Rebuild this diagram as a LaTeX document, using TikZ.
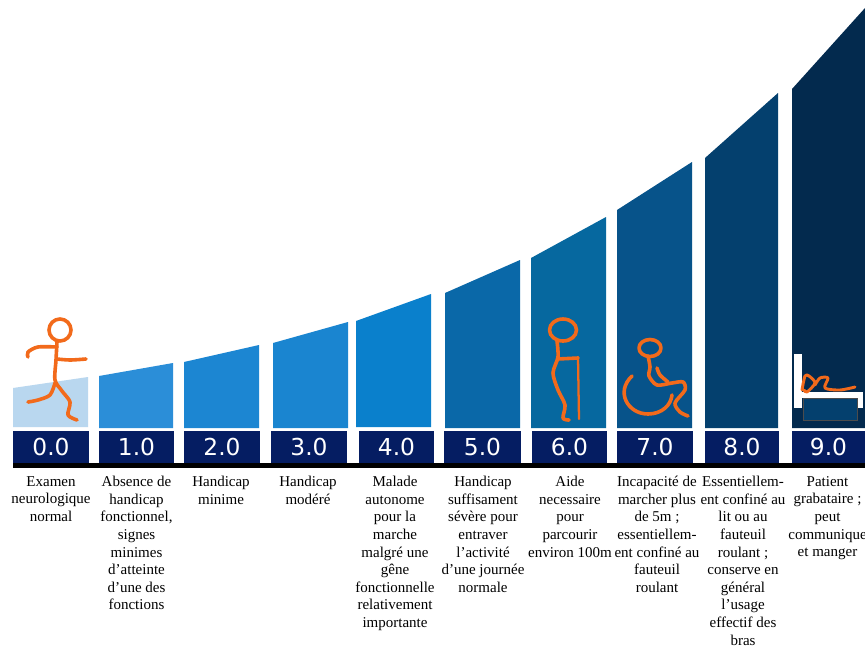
\documentclass[tikz,border=0pt]{standalone}
\usepackage{fontspec}
\setmainfont{Liberation Serif}
\setsansfont{DejaVu Sans}
\definecolor{bz}{HTML}{B9D7EF}
\definecolor{ba}{HTML}{2B8ED8}
\definecolor{bb}{HTML}{1C86D2}
\definecolor{bc}{HTML}{1A85D0}
\definecolor{bd}{HTML}{0A80CC}
\definecolor{be}{HTML}{0A68A8}
\definecolor{bf}{HTML}{06689F}
\definecolor{bg}{HTML}{07538A}
\definecolor{bh}{HTML}{04406E}
\definecolor{bi}{HTML}{032A4E}
\definecolor{navy}{HTML}{051D62}
\definecolor{figcol}{HTML}{F26A1B}
\tikzset{
  x=0.75pt,y=-0.75pt,
  numbox/.style={fill=navy,draw=none,inner sep=0pt,minimum height=24pt,text=white,font=\sffamily\fontsize{17.5}{17.5}\selectfont},
  caption/.style={anchor=north,align=center,inner sep=0pt,font=\fontsize{11.25}{13.2}\selectfont,text=black},
  fig/.style={draw=figcol,line width=2.7pt,line cap=round,line join=round}
}
\newcommand{\numb}[4]{\node[numbox,minimum width=#3*0.75pt] (n#1) at (#2+#3/2,447) {#4};}
\begin{document}
\begin{tikzpicture}
\useasboundingbox (0,0) rectangle (865,647);
\fill[white] (0,0) rectangle (865,647);
\fill[bz] (13,427) -- (13,388) -- (88,377) -- (88,427) -- cycle;
\fill[ba] (99,428) -- (99,376) -- (173,363) -- (173,428) -- cycle;
\fill[bb] (184,428) -- (184,362) -- (259,345) -- (259,428) -- cycle;
\fill[bc] (273,428) -- (273,343) -- (348,322) -- (348,428) -- cycle;
\fill[bd] (356,427) -- (356,321) -- (431,294) -- (431,427) -- cycle;
\fill[be] (445,428) -- (445,293) -- (520,260) -- (520,428) -- cycle;
\fill[bf] (531,428) -- (531,258) -- (606,217) -- (606,428) -- cycle;
\fill[bg] (617,428) -- (617,210) -- (692,162) -- (692,428) -- cycle;
\fill[bh] (705,428) -- (705,158) -- (778,93) -- (778,428) -- cycle;
\fill[bi] (792,428) -- (792,89) -- (865,8) -- (865,428) -- cycle;
\fill[black] (13,463) rectangle (865,468);
\numb{0}{13}{76}{0.0}
\numb{1}{99}{75}{1.0}
\numb{2}{184}{76}{2.0}
\numb{3}{271}{76}{3.0}
\numb{4}{359}{75}{4.0}
\numb{5}{444}{77}{5.0}
\numb{6}{532}{75}{6.0}
\numb{7}{617}{76}{7.0}
\numb{8}{705}{74}{8.0}
\numb{9}{792}{73}{9.0}
% running figure
\draw[fig] (60,330) circle[radius=11];
\draw[fig] plot[smooth] coordinates {(57,342) (56,360) (55,380) (62,391) (70,402) (68,415) (77,420)};
\draw[fig] plot[smooth] coordinates {(28,357) (28,352) (38,347) (57,347)};
\draw[fig] plot[smooth] coordinates {(57,359) (70,360) (86,359)};
\draw[fig] plot[smooth] coordinates {(55,383) (50,395) (38,400) (28,402)};
% person with cane
\draw[fig] (563,330) ellipse[x radius=13.5,y radius=11];
\draw[fig] plot[smooth] coordinates {(557,341) (558,357) (553,373) (558,390) (565,405) (563,418) (569,420)};
\draw[fig] (558,359) -- (578,358);
\draw[fig,line width=1.7pt] (578,357) -- (579,419);
% wheelchair
\draw[fig] (650,348) ellipse[x radius=11,y radius=8.5];
\draw[fig] plot[smooth] coordinates {(648,356) (650,367) (649,376) (657,385) (672,383) (683,382) (685,390) (675,403) (680,412) (688,416)};
\draw[fig] plot[smooth] coordinates {(657,368) (660,375) (668,382)};
\draw[fig] (632,376) .. controls (615,392) and (628,414) .. (648,414) .. controls (662,414) and (671,405) .. (672,395);
% bed
\fill[white] (794,354) rectangle (802,408);
\fill[white] (802,392) rectangle (863,398);
\fill[white] (857,392) rectangle (863,408);
\draw[black!70,fill=bh,line width=0.5pt] (803,398) rectangle (857,420);
\draw[fig,line width=2.2pt] plot[smooth] coordinates {(802,390) (805,376) (809,376) (815,383) (807,392) (804,390)};
\draw[fig,line width=2.2pt] plot[smooth] coordinates {(815,385) (820,378) (828,378) (825,388) (840,390) (855,387)};
% captions
\node[caption] (c0) at (51,476) {Examen\\neurologique\\normal};
\node[caption] (c1) at (136.5,476) {Absence de\\handicap\\fonctionnel,\\signes\\minimes\\d’atteinte\\d’une des\\fonctions};
\node[caption] (c2) at (221,476) {Handicap\\minime};
\node[caption] (c3) at (308,476) {Handicap\\modéré};
\node[caption] (c4) at (395,476) {Malade\\autonome\\pour la\\marche\\malgré une\\gêne\\fonctionnelle\\relativement\\importante};
\node[caption] (c5) at (483,476) {Handicap\\suffisament\\sévère pour\\entraver\\l’activité\\d’une journée\\normale};
\node[caption] (c6) at (570,476) {Aide\\necessaire\\pour\\parcourir\\environ 100m};
\node[caption] (c7) at (657,476) {Incapacité de\\marcher plus\\de 5m ;\\essentiellem-\\ent confiné au\\fauteuil\\roulant};
\node[caption] (c8) at (743,476) {Essentiellem-\\ent confiné au\\lit ou au\\fauteuil\\roulant ;\\conserve en\\général\\l’usage\\effectif des\\bras};
\node[caption] (c9) at (827.5,476) {Patient\\grabataire ;\\peut\\communique\\et manger};
\end{tikzpicture}
\end{document}
